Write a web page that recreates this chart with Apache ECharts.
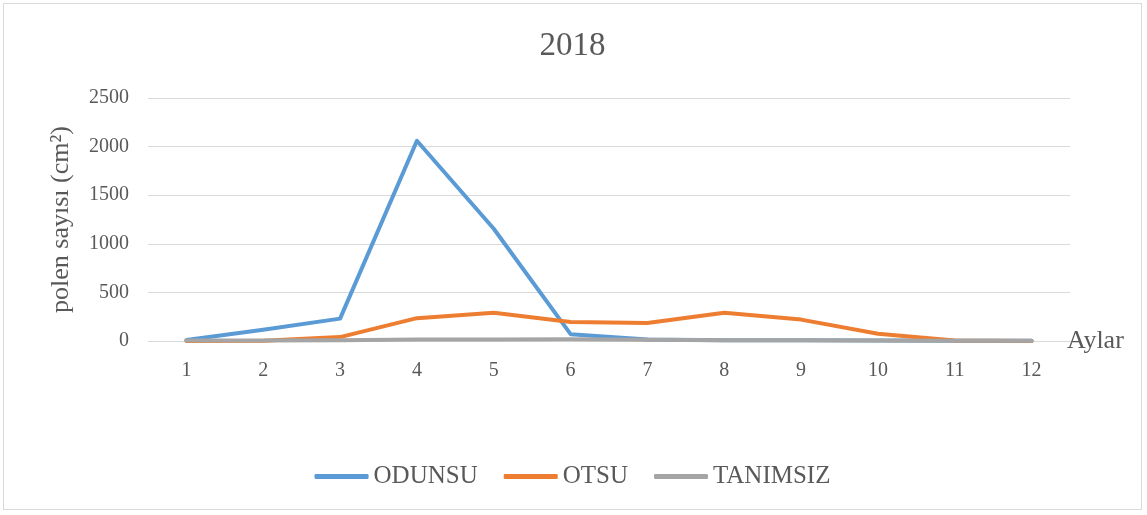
<!DOCTYPE html>
<html>
<head>
<meta charset="utf-8">
<script src="https://cdn.jsdelivr.net/npm/echarts@6/dist/echarts.min.js"></script>
<style>
  html, body { margin: 0; padding: 0; background: #fff; }
  #chart { width: 1139px; height: 507px; margin: 3px; border: 1px solid #d9d9d9; box-sizing: border-box; }
</style>
</head>
<body>
<div id="chart"></div>
<script>
// aylar (months)
const months = ['1', '2', '3', '4', '5', '6', '7', '8', '9', '10', '11', '12'];
const odunsu = [10, 115, 230, 2060, 1155, 70, 15, 8, 8, 5, 3, 2];
const otsu = [0, 2, 40, 235, 290, 195, 185, 290, 220, 75, 5, 0];
const tanimsiz = [5, 5, 8, 15, 15, 18, 12, 8, 8, 6, 3, 2];
const yTicks = [0, 500, 1000, 1500, 2000, 2500];

const chart = echarts.init(document.getElementById('chart'));
const font = '"Liberation Serif", "DejaVu Serif", serif';
const textColor = '#595959';

const mkSeries = (name, data, color) => ({
    name: name,
    type: 'line',
    data: data,
    symbol: 'none',
    lineStyle: { width: 4, color: color, cap: 'round', join: 'round' },
    itemStyle: { color: color }
});

chart.setOption({
    animation: false,
    title: {
        text: '2018',
        left: 'center',
        top: 21,
        textStyle: { fontFamily: font, fontSize: 33, fontWeight: 'normal', color: textColor }
    },
    legend: {
        bottom: 15,
        left: 'center',
        itemWidth: 54,
        itemHeight: 5,
        itemGap: 26,
        icon: 'roundRect',
        textStyle: { fontFamily: font, fontSize: 25, color: textColor },
        data: ['ODUNSU', 'OTSU', 'TANIMSIZ']
    },
    grid: { left: 144, right: 71, top: 94, bottom: 168 },
    xAxis: {
        type: 'category',
        data: months,
        boundaryGap: true,
        name: 'Aylar',
        nameLocation: 'end',
        nameGap: -3,
        nameTextStyle: { fontFamily: font, fontSize: 26, color: textColor },
        axisLine: { lineStyle: { color: '#d9d9d9', width: 1 } },
        axisTick: { show: false },
        axisLabel: { fontFamily: font, fontSize: 20, color: textColor, margin: 20 }
    },
    yAxis: {
        type: 'value',
        min: yTicks[0],
        max: yTicks[yTicks.length - 1],
        interval: 500,
        name: 'polen sayısı (cm²)',
        nameLocation: 'middle',
        nameGap: 74,
        nameRotate: 90,
        nameTextStyle: { fontFamily: font, fontSize: 26, color: textColor },
        axisLine: { show: false },
        axisTick: { show: false },
        axisLabel: { fontFamily: font, fontSize: 20, color: textColor, margin: 19, formatter: v => String(v) },
        splitLine: { lineStyle: { color: '#d9d9d9', width: 1 } }
    },
    series: [
        mkSeries('ODUNSU', odunsu, '#5B9BD5'),
        mkSeries('OTSU', otsu, '#ED7D31'),
        mkSeries('TANIMSIZ', tanimsiz, '#A5A5A5')
    ]
});
</script>
</body>
</html>
